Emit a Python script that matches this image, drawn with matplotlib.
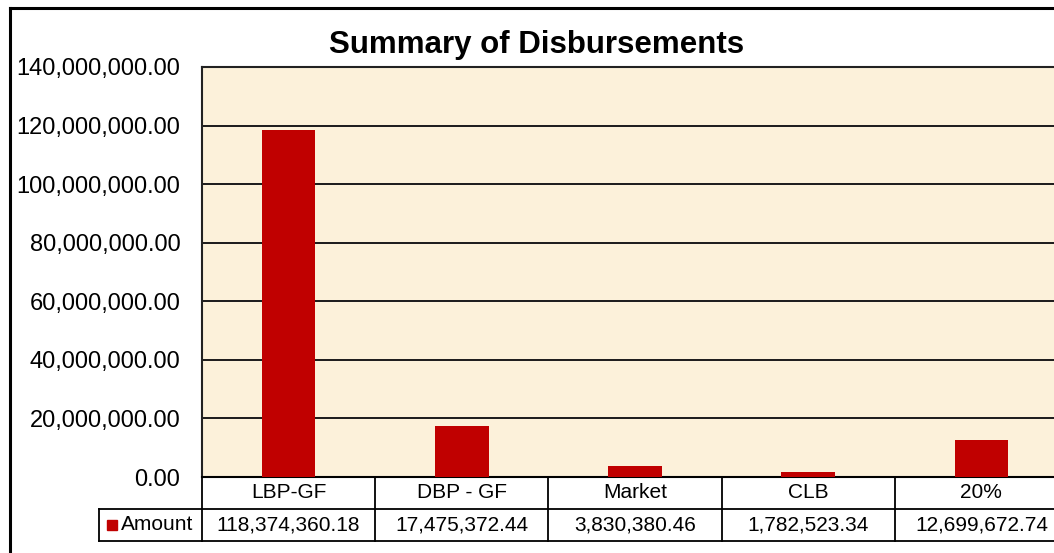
import matplotlib.pyplot as plt
from matplotlib.lines import Line2D
from matplotlib.patches import Rectangle
import matplotlib.transforms as mtransforms

plt.rcParams['font.family'] = ['Liberation Sans', 'DejaVu Sans']

# data
categories = ['LBP-GF', 'DBP - GF', 'Market', 'CLB', '20%']
amounts = [118374360.18, 17475372.44, 3830380.46, 1782523.34, 12699672.74]
series_name = 'Amount'
title = 'Summary of Disbursements'

bar_color = '#C00000'
plot_bg = '#FCF1DA'

W, H = 1054, 553
fig = plt.figure(figsize=(W / 100, H / 100), dpi=100)
fig.patch.set_facecolor('white')

# plot area runs past the right edge, like the clipped original
left, right, top, bottom = 202, 1068, 67, 477
ax = fig.add_axes([left / W, 1 - bottom / H, (right - left) / W, (bottom - top) / H])
ax.set_facecolor(plot_bg)

x = list(range(len(categories)))
ax.bar(x, amounts, width=0.31, color=bar_color, zorder=3)
ax.set_xlim(-0.5, len(categories) - 0.5)
ax.set_ylim(0, 140000000)
ax.set_yticks(range(0, 140000001, 20000000))
ax.yaxis.set_major_formatter(lambda v, p: f'{v:,.2f}')
ax.tick_params(axis='y', length=0, pad=15.5, labelsize=17)
ax.set_xticks([])
ax.grid(axis='y', color='#1a1a1a', linewidth=1.4, zorder=1)
for side in ['left', 'top']:
    ax.spines[side].set_color('#222222')
    ax.spines[side].set_linewidth(1.5)
ax.spines['right'].set_visible(False)
ax.spines['bottom'].set_color('black')
ax.spines['bottom'].set_linewidth(1.5)

fig.text(536.5 / W, 1 - 53 / H, title, fontsize=22.5, fontweight='bold',
         ha='center', va='baseline')

# data table under the axis
row_h = 32 / (bottom - top)
trans = mtransforms.blended_transform_factory(ax.transData, ax.transAxes)
lw = 1.3
n = len(categories)
edges = [i - 0.5 for i in range(n + 1)]
for k in range(3):
    y = -k * row_h
    ax.add_line(Line2D([-0.5, n - 0.5], [y, y], transform=trans, color='black',
                       lw=lw, clip_on=False))
for e in edges:
    ax.add_line(Line2D([e, e], [0, -2 * row_h], transform=trans, color='black',
                       lw=lw, clip_on=False))
for i, (c, v) in enumerate(zip(categories, amounts)):
    ax.text(i, -0.5 * row_h, c, transform=trans, ha='center', va='center',
            fontsize=15)
    ax.text(i, -1.5 * row_h, f'{v:,.2f}', transform=trans, ha='center',
            va='center', fontsize=15)

# legend key cell
key_left = (99 - left) / (right - left) * n - 0.5
ax.add_line(Line2D([key_left, -0.5], [-row_h, -row_h], transform=trans,
                   color='black', lw=lw, clip_on=False))
ax.add_line(Line2D([key_left, -0.5], [-2 * row_h, -2 * row_h], transform=trans,
                   color='black', lw=lw, clip_on=False))
ax.add_line(Line2D([key_left, key_left], [-row_h, -2 * row_h], transform=trans,
                   color='black', lw=lw, clip_on=False))
fig.patches.append(Rectangle((107 / W, 1 - 530 / H), 10 / W, 10 / H,
                             transform=fig.transFigure, color=bar_color))
fig.text(121 / W, 1 - 525 / H, series_name, fontsize=15, ha='left', va='center')

# outer chart border (top and left visible)
fig.add_artist(Line2D([10 / W, 1], [1 - 8 / H, 1 - 8 / H], color='black', lw=2.2))
fig.add_artist(Line2D([10 / W, 10 / W], [0, 1 - 8 / H], color='black', lw=2.2))

fig.savefig('out.png', dpi=100)
